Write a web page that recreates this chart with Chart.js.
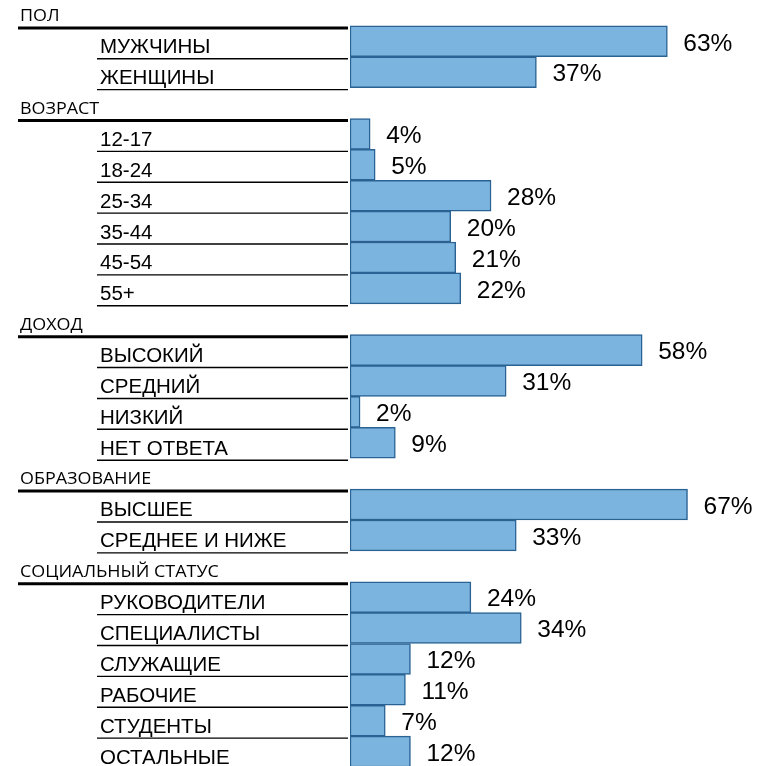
<!DOCTYPE html>
<html>
<head>
<meta charset="utf-8">
<script src="https://cdn.jsdelivr.net/npm/chart.js@4"></script>
<style>
html,body{margin:0;padding:0;background:#fff;overflow:hidden;width:762px;height:766px;}
#wrap{position:absolute;left:0;top:-5px;width:762px;height:772px;}
</style>
</head>
<body>
<div id="wrap"><canvas id="c" width="762" height="772"></canvas></div>
<script>
// ---- data ----
const groupTitles = ['ПОЛ', 'ВОЗРАСТ', 'ДОХОД', 'ОБРАЗОВАНИЕ', 'СОЦИАЛЬНЫЙ СТАТУС'];

const genderCats = ['МУЖЧИНЫ', 'ЖЕНЩИНЫ'];
const genderVals = [63, 37];

const ageCats = ['12-17', '18-24', '25-34', '35-44', '45-54', '55+'];
const ageVals = [4, 5, 28, 20, 21, 22];

const incomeCats = ['ВЫСОКИЙ', 'СРЕДНИЙ', 'НИЗКИЙ', 'НЕТ ОТВЕТА'];
const incomeVals = [58, 31, 2, 9];

const eduCats = ['ВЫСШЕЕ', 'СРЕДНЕЕ И НИЖЕ'];
const eduVals = [67, 33];

const socialCats = ['РУКОВОДИТЕЛИ', 'СПЕЦИАЛИСТЫ', 'СЛУЖАЩИЕ', 'РАБОЧИЕ', 'СТУДЕНТЫ', 'ОСТАЛЬНЫЕ'];
const socialVals = [24, 34, 12, 11, 7, 12];

// ---- build table ----
const groupCats = [genderCats, ageCats, incomeCats, eduCats, socialCats];
const groupVals = [genderVals, ageVals, incomeVals, eduVals, socialVals];
const labels = [], values = [], isHeader = [];
groupTitles.forEach((t, g) => {
  labels.push(t); values.push(null); isHeader.push(true);
  groupCats[g].forEach((c, k) => {
    labels.push(c); values.push(groupVals[g][k]); isHeader.push(false);
  });
});

const labelPlugin = {
  id: 'rowLabels',
  afterDatasetsDraw(chart) {
    const ctx = chart.ctx;
    const ys = chart.scales.y, xs = chart.scales.x;
    const rowH = ys.getPixelForValue(1) - ys.getPixelForValue(0);
    const lineRight = xs.left - 2;
    ctx.save();
    labels.forEach((lab, i) => {
      const yc = ys.getPixelForValue(i);
      const bottom = yc + rowH / 2;
      ctx.fillStyle = '#000';
      ctx.strokeStyle = '#000';
      if (isHeader[i]) {
        ctx.save();
        ctx.font = '16px "Open Sans"';
        ctx.textBaseline = 'alphabetic';
        ctx.textAlign = 'left';
        ctx.translate(20, bottom - 5);
        ctx.scale(1.12, 1);
        ctx.fillText(lab, 0, 0);
        ctx.restore();
        ctx.lineWidth = 3;
        ctx.beginPath();
        ctx.moveTo(18, bottom + 2);
        ctx.lineTo(lineRight, bottom + 2);
        ctx.stroke();
      } else {
        ctx.font = '20.5px "Liberation Sans", Arial, sans-serif';
        ctx.textBaseline = 'alphabetic';
        ctx.textAlign = 'left';
        ctx.fillText(lab, 100, bottom - 3.5);
        ctx.lineWidth = 1.4;
        ctx.beginPath();
        ctx.moveTo(97, bottom + 2);
        ctx.lineTo(lineRight, bottom + 2);
        ctx.stroke();
        // value label
        const xe = xs.getPixelForValue(values[i]);
        ctx.font = '24.5px "Liberation Sans", Arial, sans-serif';
        ctx.textBaseline = 'middle';
        ctx.fillText(values[i] + '%', xe + 16, yc + 2.5);
      }
    });
    ctx.restore();
  }
};

new Chart(document.getElementById('c'), {
  type: 'bar',
  data: {
    labels: labels,
    datasets: [{
      data: values,
      backgroundColor: '#7bb4de',
      borderColor: '#2a6393',
      borderWidth: 1.5,
      borderSkipped: false,
      barPercentage: 1,
      categoryPercentage: 1
    }]
  },
  options: {
    indexAxis: 'y',
    responsive: false,
    animation: false,
    layout: { padding: { left: 350, right: 9, top: 0, bottom: 0 } },
    plugins: { legend: { display: false }, tooltip: { enabled: false } },
    scales: {
      x: { display: false, min: 0, max: 80 },
      y: { display: false }
    }
  },
  plugins: [labelPlugin]
});
</script>
</body>
</html>
